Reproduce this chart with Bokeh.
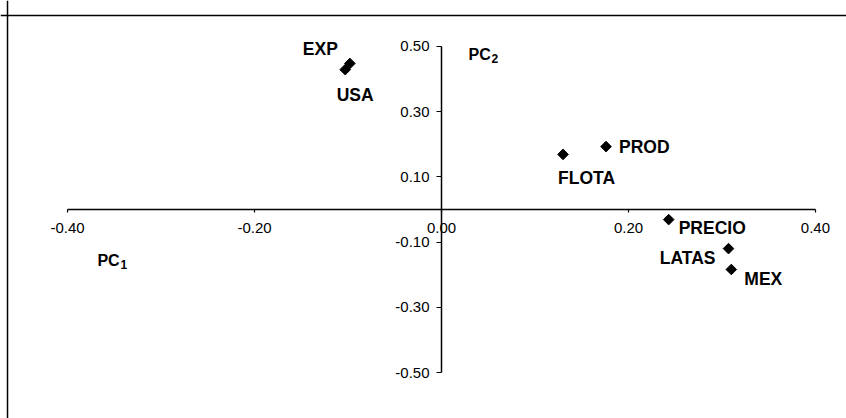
from bokeh.plotting import figure
from bokeh.models import (ColumnDataSource, LinearAxis, FixedTicker, NumeralTickFormatter,
                          Span, Label, Range1d)
from bokeh.embed import file_html
from bokeh.resources import INLINE
from bokeh.core.properties import value

# ---- data ----
variables = ["EXP", "USA", "PROD", "FLOTA", "PRECIO", "LATAS", "MEX"]
pc1 = [-0.098, -0.103, 0.176, 0.130, 0.243, 0.307, 0.310]
pc2 = [0.448, 0.429, 0.193, 0.169, -0.031, -0.120, -0.184]
x_ticks = [-0.40, -0.20, 0.00, 0.20, 0.40]
y_ticks = [-0.50, -0.30, -0.10, 0.10, 0.30, 0.50]

# ---- label layout (screen pixels) ----
lab_dx = [-12, 10, 13, -5, 10, -13, 13]
lab_dy = [-14, 25, 0, 24, 8, 9, 10]
lab_align = ["right", "center", "left", "left", "left", "right", "left"]

src = ColumnDataSource(dict(x=pc1, y=pc2, name=variables, dx=lab_dx, dy=lab_dy, align=lab_align))

FONT = "Liberation Sans"

p = figure(width=846, height=418, x_range=Range1d(-0.4717, 0.4332), y_range=Range1d(-0.6411, 0.6411),
           output_backend="svg", toolbar_location=None, x_axis_location=None, y_axis_location=None,
           min_border=0)
p.xgrid.visible = False
p.ygrid.visible = False
p.outline_line_color = None
p.background_fill_color = "white"

def style_axis(ax):
    ax.axis_line_color = "black"
    ax.axis_line_width = 1.5
    ax.major_tick_line_color = "black"
    ax.major_tick_line_width = 1.2
    ax.minor_tick_line_color = None
    ax.major_tick_in = 0
    ax.major_label_text_font = FONT
    ax.major_label_text_font_size = "15px"
    ax.major_label_text_color = "black"

xaxis = LinearAxis(fixed_location=0, bounds=(-0.4, 0.4), ticker=FixedTicker(ticks=x_ticks),
                   formatter=NumeralTickFormatter(format="0.00"))
style_axis(xaxis)
xaxis.major_tick_out = 3
xaxis.major_label_standoff = 10
p.add_layout(xaxis, "below")

yaxis = LinearAxis(fixed_location=0, bounds=(-0.5, 0.5), ticker=FixedTicker(ticks=y_ticks),
                   formatter=NumeralTickFormatter(format="0.00"))
style_axis(yaxis)
yaxis.major_tick_out = 5
yaxis.major_label_standoff = 7
p.add_layout(yaxis, "left")

# frame lines (top and left)
p.add_layout(Span(location=0.595, dimension="width", line_color="black", line_width=1.5))
p.add_layout(Span(location=-0.4642, dimension="height", line_color="black", line_width=1.5))

p.scatter(x="x", y="y", source=src, marker="square", size=7.5, angle=0.785398,
          fill_color="black", line_color="black")

p.text(x="x", y="y", text="name", source=src, x_offset="dx", y_offset="dy",
       text_align="align", text_baseline="alphabetic", text_font=value(FONT),
       text_font_style="bold", text_font_size="17.5px", text_color="black")

# axis name labels with subscripts
for (lx, ly, sub) in [(-0.368, -0.156, "1"), (0.029, 0.475, "2")]:
    p.add_layout(Label(x=lx, y=ly, text="PC", text_font=FONT, text_font_style="bold",
                       text_font_size="16px", text_baseline="alphabetic", text_color="black"))
    p.add_layout(Label(x=lx, y=ly, x_offset=23, y_offset=-4, text=sub, text_font=FONT,
                       text_font_style="bold", text_font_size="12px", text_baseline="alphabetic",
                       text_color="black"))

open("out.html", "w").write(file_html(p, INLINE))
